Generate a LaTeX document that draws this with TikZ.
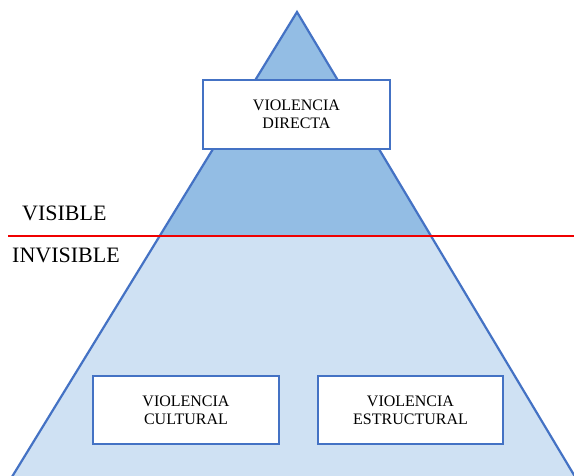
\documentclass[tikz,border=0pt]{standalone}
\usepackage{fontspec}
\setmainfont{Liberation Serif}
\definecolor{dark}{HTML}{93BDE4}
\definecolor{light}{HTML}{CFE1F3}
\definecolor{edge}{HTML}{4472C4}
\definecolor{redl}{HTML}{F00000}
\tikzset{
  vbox/.style={draw=edge, line width=2.8pt, fill=white, align=center, font=\fontsize{16}{18}\selectfont, inner sep=0pt},
  lbl/.style={font=\fontsize{22}{24}\selectfont, inner sep=0pt, anchor=west},
}
\begin{document}
\begin{tikzpicture}[x=1pt,y=-1pt]
\useasboundingbox (0,0) rectangle (574,475);
\coordinate (apex) at (297,12);
\coordinate (bl) at (7,485);
\coordinate (br) at (580,485);
\begin{scope}
\clip (0,0) rectangle (574,475);
\begin{scope}
\clip (apex) -- (bl) -- (br) -- cycle;
\fill[dark] (0,0) rectangle (574,236);
\fill[light] (0,236) rectangle (574,485);
\end{scope}
\draw[edge, line width=2.2pt, line join=miter] (bl) -- (apex) -- (br);
\end{scope}
\coordinate (rl) at (8,236);
\coordinate (rr) at (574,236);
\draw[redl, line width=2.5pt] (rl) -- (rr);
\node[vbox, minimum width=187pt, minimum height=69pt] (directa) at (296.5,114.5) {VIOLENCIA\\DIRECTA};
\node[vbox, minimum width=186pt, minimum height=68pt] (cultural) at (186,410) {VIOLENCIA\\CULTURAL};
\node[vbox, minimum width=185pt, minimum height=68pt] (estructural) at (410.5,410) {VIOLENCIA\\ESTRUCTURAL};
\node[lbl] (visible) at (22,213) {VISIBLE};
\node[lbl] (invisible) at (12,255) {INVISIBLE};
\end{tikzpicture}
\end{document}
